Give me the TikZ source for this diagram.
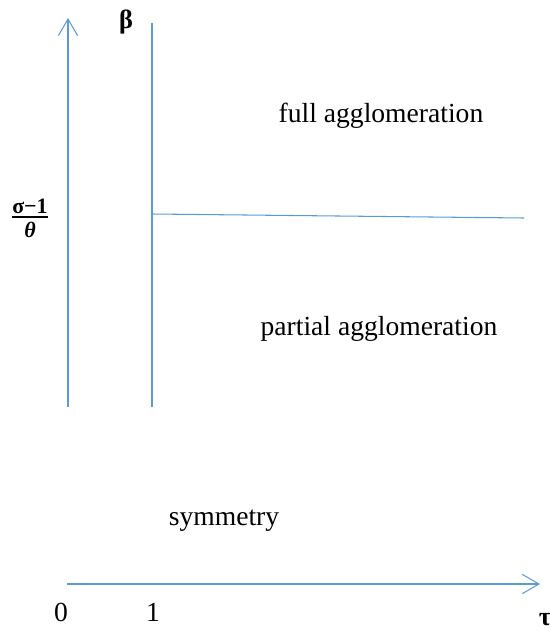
\documentclass[tikz,border=0pt]{standalone}
\usepackage{fontspec}
\setmainfont{Liberation Serif}
\usetikzlibrary{arrows.meta}

\definecolor{axisblue}{RGB}{91,155,213}

\tikzset{%
        axis/.style={
                draw=axisblue,
                line width=0.6pt,
                -{Straight Barb[length=9.5pt,width=11pt,line width=0.6pt]}
            },
        border/.style={
                draw=axisblue,
                line width=0.6pt
            },
        region/.style={
                inner sep=0pt,
                font=\fontsize{15.7}{18}\selectfont
            },
        greek/.style={
                inner sep=0pt,
                font=\fontsize{15}{18}\selectfont\bfseries
            }
    }

\begin{document}
\begin{tikzpicture}[x=0.02cm, y=-0.02cm]
    \useasboundingbox (0,0) rectangle (550,632);

    % axes:
        \coordinate (o)    at (68,407);
        \coordinate (ytop) at (68,18);
        \coordinate (xl)   at (67,584);
        \coordinate (xr)   at (540,584);
        \draw[axis] (o) -- (ytop);
        \draw[axis] (xl) -- (xr);

    % borders between regions:
        \coordinate (tlow)  at (152,407);
        \coordinate (thigh) at (152,23);
        \coordinate (bl)    at (152,214);
        \coordinate (br)    at (524,218);
        \draw[border] (tlow) -- (thigh);
        \draw[border] (bl) -- (br);

    % labels:
        \node [greek]  (beta) at (126,22) {β};
        \node [inner sep=0pt, font=\fontsize{12.5}{12}\selectfont\bfseries\setlength{\arrayrulewidth}{1.3pt}]  (thr) at (30,221) {\begin{tabular}{@{}c@{}}σ−1\\[-2pt]\hline\rule{0pt}{11pt}\textit{θ}\end{tabular}};
        \node [region]  (full) at (381,116) {full agglomeration};
        \node [region]  (part) at (379,329) {partial agglomeration};
        \node [region]  (sym) at (224,521) {symmetry};
        \node [region]  (zero) at (61,612) {0};
        \node [region]  (one) at (153,612) {1};
        \node [greek]  (tau) at (545,620) {τ};
\end{tikzpicture}
\end{document}
